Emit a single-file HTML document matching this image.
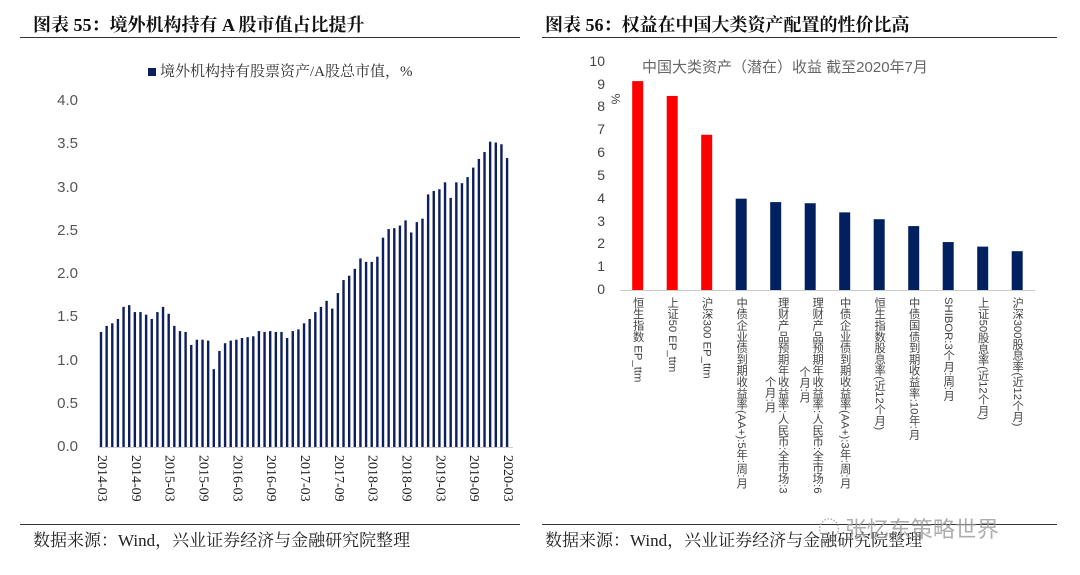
<!DOCTYPE html>
<html><head><meta charset="utf-8"><style>
body{margin:0;background:#fff;width:1080px;height:575px;position:relative;overflow:hidden}
.a{position:absolute;white-space:nowrap}
.t{font-family:"Liberation Serif","Noto Serif CJK SC",serif;font-weight:bold;font-size:18px;color:#111}
.yl{font-family:"Liberation Sans",sans-serif;font-size:15px;color:#555;text-align:right;width:30px}
.xl{font-family:"Liberation Serif",serif;font-size:14px;color:#222;writing-mode:vertical-rl;line-height:14px}
.rl{font-family:"Liberation Sans","Noto Sans CJK SC",sans-serif;font-size:11.3px;color:#444;writing-mode:vertical-rl;line-height:12px}
.ry{font-family:"Liberation Sans",sans-serif;font-size:14px;color:#444;text-align:right;width:20px}
.src{font-family:"Liberation Serif","Noto Serif CJK SC",serif;font-size:17px;color:#222}
</style></head><body>
<div class="a t" style="left:33px;top:11px">图表 55：境外机构持有 A 股市值占比提升</div>
<div class="a t" style="left:545px;top:11px">图表 56：权益在中国大类资产配置的性价比高</div>
<div class="a" style="left:20px;top:37px;width:500px;height:1px;background:#333"></div>
<div class="a" style="left:542px;top:37px;width:515px;height:1px;background:#333"></div>
<div class="a" style="left:20px;top:524px;width:500px;height:1px;background:#333"></div>
<div class="a" style="left:542px;top:524px;width:515px;height:1px;background:#333"></div>
<div class="a src" style="left:33px;top:526px">数据来源：Wind，兴业证券经济与金融研究院整理</div>
<div class="a src" style="left:545px;top:526px">数据来源：Wind，兴业证券经济与金融研究院整理</div>
<div class="a" style="left:818px;top:512px;font-family:'Noto Sans CJK SC',sans-serif;font-size:22px;color:#999;opacity:.8">◌ 张忆东策略世界</div>

<div class="a" style="left:148px;top:60px;font-family:'Liberation Serif','Noto Serif CJK SC',serif;font-size:15px;color:#333"><span style="display:inline-block;width:8px;height:8px;background:#0d1f5c;margin-right:4px"></span>境外机构持有股票资产/A股总市值，%</div>
<div class="a" style="left:99px;top:447px;width:414px;height:1px;background:#ccc"></div>
<svg class="a" style="left:0;top:0" width="540" height="575" id="ls"></svg>
<div id="lx"></div>

<div class="a" style="left:620px;top:290px;width:415px;height:1px;background:#ccc"></div>
<div class="a" style="left:642px;top:56px;font-family:'Liberation Sans','Noto Sans CJK SC',sans-serif;font-size:15px;color:#666">中国大类资产（潜在）收益 截至2020年7月</div>
<div class="a" style="left:610px;top:92px;font-family:'Liberation Sans',sans-serif;font-size:12px;color:#444;transform:rotate(90deg)">%</div>
<svg class="a" style="left:540px;top:0" width="540" height="575" id="rs"></svg>
<div id="rx"></div>
<script>
var v=[1.33,1.40,1.43,1.48,1.62,1.64,1.56,1.56,1.53,1.48,1.56,1.62,1.54,1.40,1.34,1.33,1.18,1.24,1.24,1.23,0.90,1.11,1.20,1.23,1.24,1.26,1.27,1.28,1.34,1.33,1.34,1.33,1.33,1.26,1.34,1.36,1.43,1.48,1.56,1.62,1.69,1.60,1.78,1.93,1.98,2.06,2.18,2.14,2.14,2.20,2.42,2.52,2.53,2.56,2.62,2.48,2.60,2.64,2.92,2.96,2.98,3.06,2.88,3.06,3.05,3.12,3.23,3.33,3.41,3.53,3.52,3.50,3.34];
var s='';
v.forEach(function(d,i){var x=101+i*5.64,h=d*86.5;s+='<rect x="'+(x-1.2)+'" y="'+(447-h)+'" width="2.4" height="'+h+'" fill="#0d1f5c"/>';});
document.getElementById('ls').innerHTML=s;
var h='';
for(var k=0;k<=8;k++){var val=k*0.5;h+='<div class="a yl" style="left:48px;top:'+(447-val*86.5-9)+'px">'+val.toFixed(1)+'</div>';}
var lab=['2014-03','2014-09','2015-03','2015-09','2016-03','2016-09','2017-03','2017-09','2018-03','2018-09','2019-03','2019-09','2020-03'];
lab.forEach(function(l,k){h+='<div class="a xl" style="left:'+(101+k*33.84-7)+'px;top:455px">'+l+'</div>';});
document.getElementById('lx').innerHTML=h;
var rv=[9.15,8.5,6.8,4.0,3.85,3.8,3.4,3.1,2.8,2.1,1.9,1.7];
var r='';
rv.forEach(function(d,i){var x=637.7+i*34.5-540,hh=d*22.83;r+='<rect x="'+(x-5.5)+'" y="'+(290-hh)+'" width="11" height="'+hh+'" fill="'+(i<3?'#ff0000':'#002060')+'"/>';});
document.getElementById('rs').innerHTML=r;
var rh='';
for(var k=0;k<=10;k++){rh+='<div class="a ry" style="left:585px;top:'+(290-k*22.83-9)+'px">'+k+'</div>';}
var rl=[['恒生指数 EP_ttm'],['上证50 EP_ttm'],['沪深300 EP_ttm'],['中债企业债到期收益率(AA+):5年:周:月'],['理财产品预期年收益率:人民币:全市场:3','个月:月'],['理财产品预期年收益率:人民币:全市场:6','个月:月'],['中债企业债到期收益率(AA+):3年:周:月'],['恒生指数股息率(近12个月)'],['中债国债到期收益率:10年:月'],['SHIBOR:3个月:周:月'],['上证50股息率(近12个月)'],['沪深300股息率(近12个月)']];
rl.forEach(function(a,i){var c=637.7+i*34.5;
 if(a.length==1){rh+='<div class="a rl" style="left:'+(c-6)+'px;top:297px">'+a[0]+'</div>';}
 else{rh+='<div class="a rl" style="left:'+(c+1)+'px;top:297px">'+a[0]+'</div><div class="a rl" style="left:'+(c-12)+'px;top:'+(i==4?376:366)+'px">'+a[1]+'</div>';}
});
document.getElementById('rx').innerHTML=rh;
</script>
</body></html>
